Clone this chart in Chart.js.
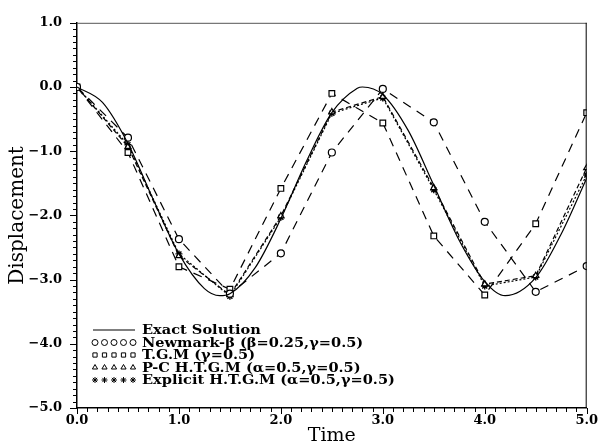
<!DOCTYPE html>
<html>
<head>
<meta charset="utf-8">
<script src="https://cdn.jsdelivr.net/npm/chart.js@4.4.1/dist/chart.umd.min.js"></script>
<style>
  html, body { margin: 0; padding: 0; background: #fff; }
  #wrap { width: 603px; height: 447px; }
</style>
</head>
<body>
<div id="wrap"><canvas id="myChart" width="603" height="447"></canvas></div>
<script>
// sampled times of the numerical schemes
const stepTimes = [0, 0.5, 1.0, 1.5, 2.0, 2.5, 3.0, 3.5, 4.0, 4.5, 5.0];
const newmarkValues = [0, -0.79, -2.37, -3.22, -2.59, -1.02, -0.03, -0.55, -2.10, -3.19, -2.79];
const tgmValues = [0, -1.02, -2.80, -3.15, -1.58, -0.10, -0.56, -2.32, -3.24, -2.13, -0.40];
const pcValues = [0, -0.93, -2.63, -3.24, -2.01, -0.39, -0.15, -1.57, -3.07, -2.94, -1.26];
const explicitValues = [0, -0.90, -2.60, -3.26, -2.03, -0.41, -0.17, -1.60, -3.10, -2.96, -1.37];

// exact solution
const exactTimes = [0, 0.25, 0.5, 0.75, 1.0, 1.25, 1.4, 1.5, 1.75, 2.0, 2.25, 2.5, 2.75, 2.8, 3.0, 3.25, 3.5, 3.75, 4.0, 4.2, 4.5, 4.75, 5.0];
const exactValues = [0, -0.24, -0.88, -1.76, -2.60, -3.14, -3.25, -3.22, -2.81, -2.05, -1.16, -0.40, -0.02, 0.0, -0.12, -0.68, -1.53, -2.39, -3.03, -3.25, -2.97, -2.29, -1.42];

const yTickLabels = [1, 0, -1, -2, -3, -4, -5];
const xTickLabels = [0, 1, 2, 3, 4, 5];

const legendLabels = [
    "Exact Solution",
    "Newmark-\u03b2 (\u03b2=0.25,\u03b3=0.5)",
    "T.G.M (\u03b3=0.5)",
    "P-C H.T.G.M (\u03b1=0.5,\u03b3=0.5)",
    "Explicit H.T.G.M (\u03b1=0.5,\u03b3=0.5)",
];

const pts = (xs, ys) => xs.map((x, i) => ({ x: x, y: ys[i] }));
const fmt = (v) => (v < 0 ? "\u2212" : "") + Math.abs(v).toFixed(1);

const data = {
    datasets: [
        {
            label: legendLabels[0],
            data: pts(exactTimes, exactValues),
            borderColor: "#000",
            borderWidth: 1.2,
            pointRadius: 0,
            cubicInterpolationMode: "monotone",
            showLine: true,
        },
        {
            label: legendLabels[1],
            data: pts(stepTimes, newmarkValues),
            borderColor: "#000",
            borderWidth: 1.2,
            borderDash: [9, 7],
            pointStyle: "circle",
            pointRadius: 3.5,
            pointBackgroundColor: "#fff",
            pointBorderColor: "#000",
            pointBorderWidth: 1.2,
            tension: 0,
            showLine: true,
        },
        {
            label: legendLabels[2],
            data: pts(stepTimes, tgmValues),
            borderColor: "#000",
            borderWidth: 1.2,
            borderDash: [9, 7],
            pointStyle: "rect",
            pointRadius: 4,
            pointBackgroundColor: "#fff",
            pointBorderColor: "#000",
            pointBorderWidth: 1.2,
            tension: 0,
            showLine: true,
        },
        {
            label: legendLabels[3],
            data: pts(stepTimes, pcValues),
            borderColor: "#000",
            borderWidth: 1.2,
            borderDash: [5, 3],
            pointStyle: "triangle",
            pointRadius: 3.5,
            pointBackgroundColor: "#fff",
            pointBorderColor: "#000",
            pointBorderWidth: 1.2,
            tension: 0,
            showLine: true,
        },
        {
            label: legendLabels[4],
            data: pts(stepTimes, explicitValues),
            borderColor: "#000",
            borderWidth: 1.2,
            borderDash: [2, 2],
            pointStyle: "star",
            pointRadius: 3.5,
            pointBorderColor: "#000",
            pointBorderWidth: 1.4,
            tension: 0,
            showLine: true,
        },
    ],
};

// frame, minor ticks and the legend inside the plot
const framePlugin = {
    id: "framePlugin",
    afterDraw(chart) {
        const { ctx, chartArea: { left, top, right, bottom }, scales: { x, y } } = chart;
        ctx.save();
        ctx.lineWidth = 1;
        ctx.beginPath();
        ctx.strokeStyle = "#555";
        ctx.moveTo(left, top + 0.5);
        ctx.lineTo(right, top + 0.5);
        ctx.stroke();
        ctx.beginPath();
        ctx.strokeStyle = "#000";
        ctx.moveTo(right - 0.5, top);
        ctx.lineTo(right - 0.5, bottom);
        ctx.stroke();
        // ticks every 0.1
        ctx.beginPath();
        for (let i = -50; i <= 10; i++) {
            const py = Math.round(y.getPixelForValue(i / 10)) + 0.5;
            const len = i % 10 === 0 ? 7 : 4;
            ctx.moveTo(left - len, py);
            ctx.lineTo(left, py);
        }
        for (let i = 0; i <= 50; i++) {
            const px = Math.round(x.getPixelForValue(i / 10)) + 0.5;
            const len = i % 10 === 0 ? 6 : 4;
            ctx.moveTo(px, bottom);
            ctx.lineTo(px, bottom + len);
        }
        ctx.stroke();

        // legend
        const lx = 93, sampleW = 42, tx = 142;
        const rowY = [330, 342.5, 355, 367.5, 380];
        ctx.font = "bold 13px 'DejaVu Serif'";
        ctx.textBaseline = "middle";
        chart.data.datasets.forEach((ds, i) => {
            const yy = rowY[i];
            ctx.strokeStyle = "#000";
            if (i === 0) {
                ctx.beginPath();
                ctx.lineWidth = 1.2;
                ctx.moveTo(lx, yy);
                ctx.lineTo(lx + sampleW, yy);
                ctx.stroke();
            } else {
                for (let k = 0; k < 5; k++) {
                    ctx.lineWidth = 1;
                    ctx.fillStyle = "#fff";
                    Chart.helpers.drawPoint(ctx, {
                        pointStyle: ds.pointStyle,
                        rotation: 0,
                        radius: 3,
                        borderWidth: 1,
                    }, 95 + k * 9.5, yy);
                }
            }
            ctx.save();
            ctx.translate(tx, yy + 1);
            ctx.scale(1.12, 1);
            ctx.fillStyle = "#000";
            ctx.fillText(ds.label, 0, 0);
            ctx.restore();
        });
        ctx.restore();
    },
};

const axisFont = { family: "'DejaVu Serif'", size: 13, weight: "bold" };

const config = {
    type: "scatter",
    data,
    options: {
        responsive: false,
        animation: false,
        layout: { padding: { top: 14, right: 7, left: 0, bottom: 0 } },
        plugins: { legend: { display: false }, tooltip: { enabled: false } },
        scales: {
            x: {
                type: "linear",
                min: 0,
                max: 5,
                afterBuildTicks: (s) => { s.ticks = xTickLabels.map((v) => ({ value: v })); },
                ticks: { callback: (v) => fmt(v), font: axisFont, color: "#000", padding: 5, maxRotation: 0 },
                grid: { display: false, drawTicks: false, tickLength: 0 },
                border: { color: "#000", width: 1.5 },
                title: { display: true, text: "Time", font: { family: "'DejaVu Serif'", size: 19 }, color: "#000", padding: 0 },
                afterFit: (s) => { s.height = 39; },
            },
            y: {
                min: -5,
                max: 1,
                afterBuildTicks: (s) => { s.ticks = yTickLabels.map((v) => ({ value: v })); },
                ticks: { callback: (v) => fmt(v), font: axisFont, color: "#000", padding: 15 },
                grid: { display: false, drawTicks: false, tickLength: 0 },
                border: { color: "#000", width: 1.5 },
                title: { display: true, text: "Displacement", font: { family: "'DejaVu Serif'", size: 20 }, color: "#000", padding: { top: 6, bottom: 0 } },
                afterFit: (s) => { s.width = 77; },
            },
        },
    },
    plugins: [framePlugin],
};

const myChart = new Chart(document.getElementById("myChart"), config);
</script>
</body>
</html>
